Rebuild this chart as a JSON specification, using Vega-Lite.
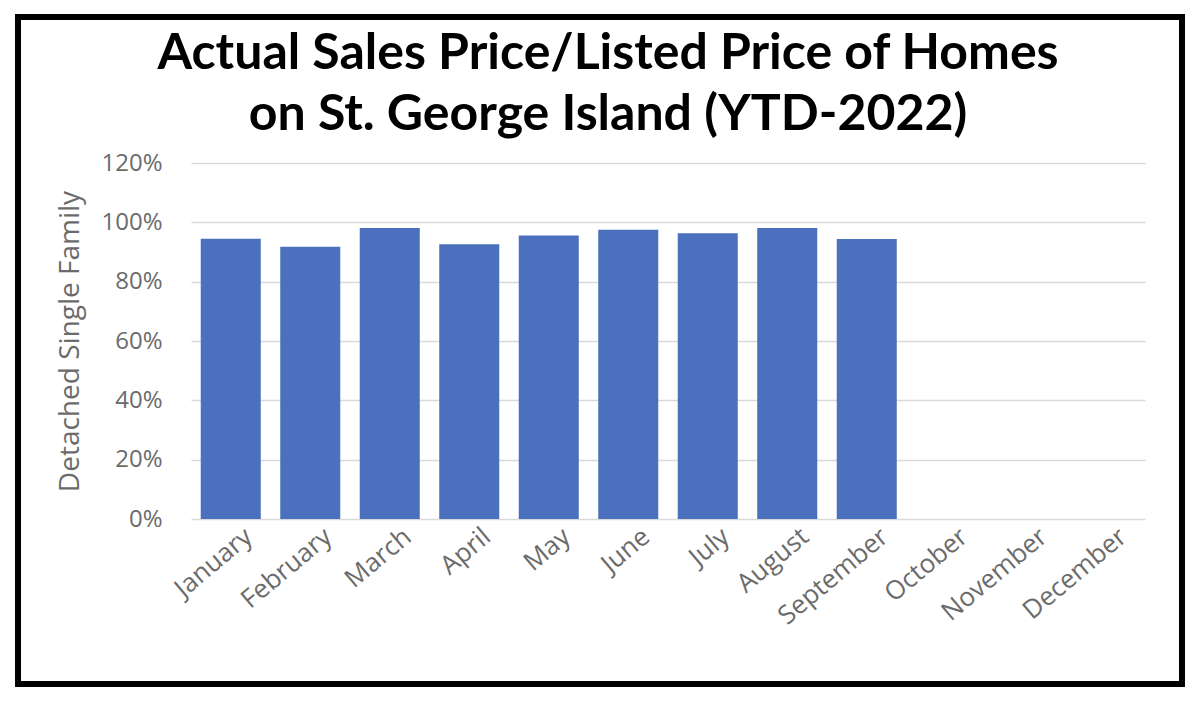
{
  "$schema": "https://vega.github.io/schema/vega-lite/v6.json",
  "autosize": {"type": "none"},
  "width": 1164,
  "height": 667,
  "padding": {"left": 18, "top": 17, "right": 18, "bottom": 19},
  "background": "white",
  "config": {
    "view": {"stroke": "#000000", "strokeWidth": 6},
    "font": "Open Sans"
  },
  "title": {
    "text": ["Actual Sales Price/Listed Price of Homes", "on St. George Island (YTD-2022)"],
    "font": "Lato",
    "fontSize": 50,
    "fontWeight": "bold",
    "color": "#000000",
    "lineHeight": 61,
    "anchor": "middle",
    "frame": "group",
    "orient": "top",
    "baseline": "alphabetic",
    "offset": 0,
    "dx": 8,
    "dy": 163
  },
  "data": {
    "values": [
      {"month": "January", "ratio": 0.945},
      {"month": "February", "ratio": 0.918},
      {"month": "March", "ratio": 0.981},
      {"month": "April", "ratio": 0.926},
      {"month": "May", "ratio": 0.956},
      {"month": "June", "ratio": 0.975},
      {"month": "July", "ratio": 0.963},
      {"month": "August", "ratio": 0.981},
      {"month": "September", "ratio": 0.944}
    ]
  },
  "mark": {"type": "bar", "color": "#4A70BE"},
  "encoding": {
    "x": {
      "field": "month",
      "type": "nominal",
      "sort": null,
      "scale": {
        "domain": ["January", "February", "March", "April", "May", "June", "July", "August", "September", "October", "November", "December"],
        "range": [173, 1127],
        "paddingInner": 0.245,
        "paddingOuter": 0.1225
      },
      "axis": {
        "title": null,
        "offset": -165,
        "domain": false,
        "ticks": false,
        "grid": false,
        "labelAngle": -40,
        "labelAlign": "right",
        "labelBaseline": "middle",
        "labelPadding": 14,
        "labelOffset": 18,
        "labelFont": "Open Sans",
        "labelFontSize": 26,
        "labelColor": "#6b6b6b"
      }
    },
    "y": {
      "field": "ratio",
      "type": "quantitative",
      "scale": {"domain": [0, 1.2], "range": [502, 146], "nice": false, "zero": true},
      "axis": {
        "title": "Detached Single Family",
        "titleFont": "Open Sans",
        "titleFontSize": 28,
        "titleFontWeight": "normal",
        "titleColor": "#6b6b6b",
        "titlePadding": 16,
        "offset": -173,
        "values": [0, 0.2, 0.4, 0.6, 0.8, 1.0, 1.2],
        "format": ".0%",
        "domain": false,
        "ticks": false,
        "grid": true,
        "gridColor": "#d9d9d9",
        "gridWidth": 1.3,
        "labelPadding": 29,
        "labelFont": "Open Sans",
        "labelFontSize": 24,
        "labelColor": "#6b6b6b"
      }
    }
  }
}
